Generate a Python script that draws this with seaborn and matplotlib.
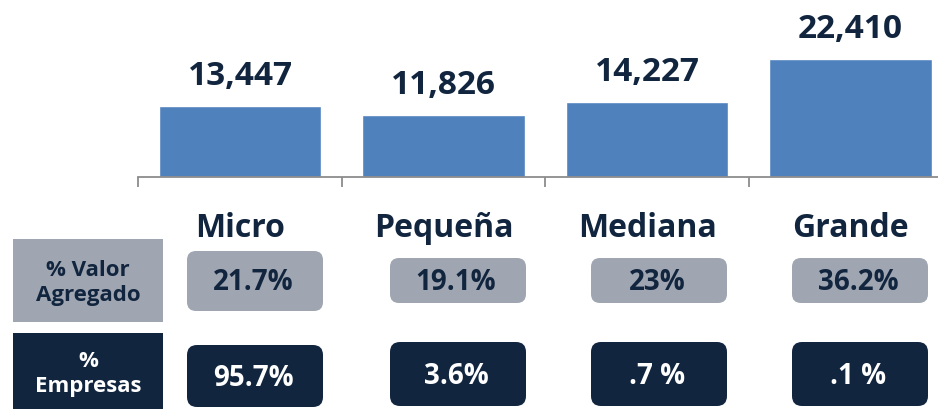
import matplotlib
matplotlib.use("Agg")
import matplotlib.pyplot as plt
import seaborn as sns
import pandas as pd
from matplotlib.patches import FancyBboxPatch, Rectangle

# ---- data ----
categories = ["Micro", "Pequeña", "Mediana", "Grande"]
values = [13447, 11826, 14227, 22410]
valor_agregado = ["21.7%", "19.1%", "23%", "36.2%"]
empresas = ["95.7%", "3.6%", ".7 %", ".1 %"]
row_labels = ["% Valor\nAgregado", "%\nEmpresas"]

BAR = "#4F81BD"
NAVY = "#12253F"
GRAY = "#9FA6B1"
AXIS = "#8C8C8C"

sns.set_theme(style="white")
plt.rcParams["font.family"] = ["Open Sans", "DejaVu Sans"]
plt.rcParams["font.weight"] = "bold"

W, H = 938, 410
fig = plt.figure(figsize=(W / 100, H / 100), dpi=100)

base_px = 178  # axis line from top
ax = fig.add_axes([0, (H - base_px) / H, 1, base_px / H])
df = pd.DataFrame({"cat": categories, "val": values})
sns.barplot(data=df, x="cat", y="val", color=BAR, saturation=1, width=0.8, ax=ax)

spacing = 203.5
x0 = -240 / spacing
ax.set_xticks([i - 0.5 for i in range(len(categories) + 1)])
ax.set_xticklabels([])
for s in ["top", "right", "left"]:
    ax.spines[s].set_visible(False)
ax.spines["bottom"].set_color(AXIS)
ax.spines["bottom"].set_linewidth(1.3)
ax.spines["bottom"].set_bounds(-0.5, x0 + W / spacing)
ax.tick_params(axis="x", length=7.5, width=1.3, color=AXIS, direction="out", bottom=True)
ax.set_yticks([])
ax.set_xlabel("")
ax.set_ylabel("")
ax.set_xlim(x0, x0 + W / spacing)
ax.set_ylim(0, 22410 * base_px / 118)

for i, v in enumerate(values):
    ax.annotate(f"{v:,}", (i, v), xytext=(0, 16), textcoords="offset points",
                ha="center", va="baseline", fontsize=24, fontweight="bold", color=NAVY)

# ---- lower table area in pixel coordinates ----
lx = fig.add_axes([0, 0, 1, (H - base_px) / H])
lx.set_xlim(0, W)
lx.set_ylim(H, base_px)
lx.axis("off")

centers = [ax.transData.transform((i, 0))[0] for i in range(len(categories))]

for c, name in zip(centers, categories):
    lx.text(c, 237, name, ha="center", va="baseline", fontsize=23,
            fontweight="bold", color=NAVY)

# row headers
lx.add_patch(Rectangle((13, 240), 150, 83, facecolor=GRAY, edgecolor="none"))
lx.add_patch(Rectangle((13, 334), 150, 76, facecolor=NAVY, edgecolor="none"))
lx.text(88, 283, row_labels[0], ha="center", va="center", fontsize=16,
        fontweight="bold", color=NAVY, linespacing=1.2)
lx.text(88, 374, row_labels[1], ha="center", va="center", fontsize=16,
        fontweight="bold", color="white", linespacing=1.2)

# the value boxes sit slightly right of the category centres
box_shift = [15, 14.5, 12, 9.5]
bw = 136
for i, c0 in enumerate(centers):
    c = c0 + box_shift[i]
    if i == 0:
        y1, h1 = 252, 60
        y2, h2 = 346, 62
    else:
        y1, h1 = 259, 45
        y2, h2 = 343, 64
    lx.add_patch(FancyBboxPatch((c - bw / 2, y1), bw, h1,
                                boxstyle="round,pad=0,rounding_size=9",
                                facecolor=GRAY, edgecolor="none"))
    lx.add_patch(FancyBboxPatch((c - bw / 2, y2), bw, h2,
                                boxstyle="round,pad=0,rounding_size=10",
                                facecolor=NAVY, edgecolor="none"))
    lx.text(c - 2, y1 + h1 / 2 + 1, valor_agregado[i], ha="center", va="center",
            fontsize=20, fontweight="bold", color=NAVY)
    lx.text(c - 2, y2 + h2 / 2 + 1, empresas[i], ha="center", va="center",
            fontsize=20, fontweight="bold", color="white")

fig.savefig("out.png", dpi=100)
